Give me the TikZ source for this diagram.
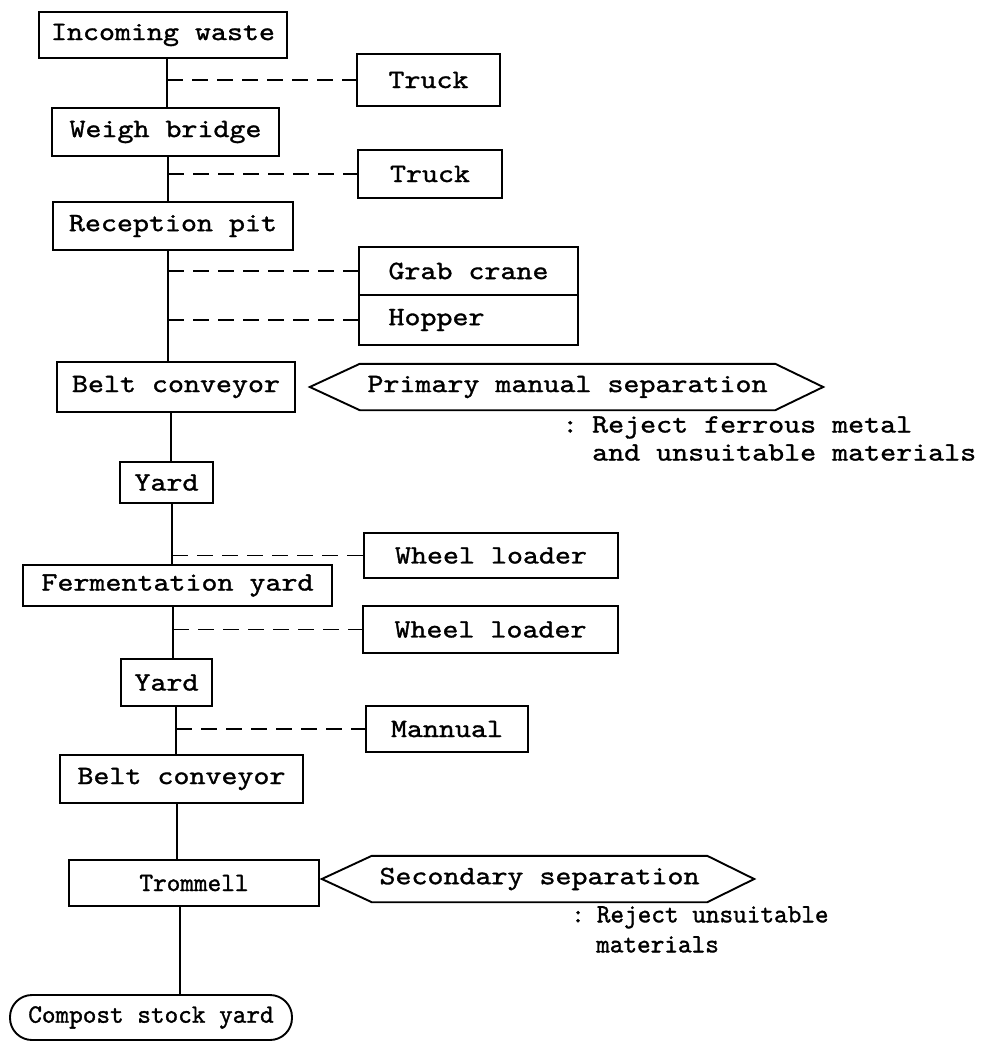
\documentclass[tikz,border=0pt]{standalone}
\usepackage{fontspec}
\newfontfamily\twfont{lmmono10-regular.otf}[FakeStretch=1.15,FakeBold=1.2]
\newfontfamily\twnarrow{lmmono10-regular.otf}[FakeStretch=0.98,FakeBold=1.2]
\usetikzlibrary{calc}

\tikzset{
  stage/.style={draw, line width=1.9pt, inner sep=0pt,
    font=\fontsize{26.5}{30}\twfont},
  spine/.style={line width=2.6pt},
  link/.style={line width=1.4pt, dash pattern=on 16pt off 9pt},
  outline/.style={line width=1.9pt, line join=miter},
  sepnote/.style={inner sep=0pt, font=\fontsize{26.5}{30}\twfont},
  remark/.style={inner sep=0pt, anchor=north west, align=left,
    font=\fontsize{26.5}{28}\twfont}
}

\begin{document}
\begin{tikzpicture}[x=1pt,y=-1pt]
\useasboundingbox (0,0) rectangle (984,1046);
\fill[white] (0,0) rectangle (984,1046);

% main process chain
\node[stage, minimum width=248pt, minimum height=46pt] (inc) at (163,35) {Incoming waste};
\node[stage, minimum width=227pt, minimum height=48pt] (weigh) at (165.5,132) {Weigh bridge};
\node[stage, minimum width=240pt, minimum height=48pt] (recep) at (173,226) {Reception pit};
\node[stage, minimum width=238pt, minimum height=50pt] (belt1) at (176,387) {Belt conveyor};
\node[stage, minimum width=93pt, minimum height=41pt] (yard1) at (166.5,482.5) {Yard};
\node[stage, minimum width=309pt, minimum height=41pt] (ferm) at (177.5,585.5) {Fermentation yard};
\node[stage, minimum width=91pt, minimum height=47pt] (yard2) at (166.5,682.5) {Yard};
\node[stage, minimum width=243pt, minimum height=48pt] (belt2) at (181.5,779) {Belt conveyor};
\node[stage, minimum width=250pt, minimum height=46pt, font=\fontsize{26.5}{30}\twnarrow] (tromm) at (194,883) {Trommell};
\node[stage, minimum width=282pt, minimum height=45pt, rounded corners=22pt,
  font=\fontsize{26.5}{30}\twnarrow] (compost) at (151,1017.5) {Compost stock yard};

% equipment
\node[stage, minimum width=143pt, minimum height=52pt] (truck1) at (428.5,80) {Truck};
\node[stage, minimum width=144pt, minimum height=48pt] (truck2) at (430,174) {Truck};
\node[stage, minimum width=219pt, minimum height=48pt] (grab) at (468.5,271) {Grab crane};
\node[stage, minimum width=219pt, minimum height=50pt] (hopper) at (468.5,320) {Hopper\phantom{xxxx}};
\node[stage, minimum width=254pt, minimum height=45pt] (wl1) at (491,555.5) {Wheel loader};
\node[stage, minimum width=255pt, minimum height=47pt] (wl2) at (490.5,629.5) {Wheel loader};
\node[stage, minimum width=162pt, minimum height=46pt] (mann) at (447,729) {Mannual};

% spine positions of each segment
\coordinate (x1) at (167,0);
\coordinate (x2) at (168,0);
\coordinate (x3) at (168,0);
\coordinate (x4) at (171,0);
\coordinate (x5) at (172,0);
\coordinate (x6) at (173,0);
\coordinate (x7) at (176,0);
\coordinate (x8) at (177,0);
\coordinate (x9) at (180,0);

\draw[spine] (inc.south -| x1) -- (weigh.north -| x1);
\draw[spine] (weigh.south -| x2) -- (recep.north -| x2);
\draw[spine] (recep.south -| x3) -- (belt1.north -| x3);
\draw[spine] (belt1.south -| x4) -- (yard1.north -| x4);
\draw[spine] (yard1.south -| x5) -- (ferm.north -| x5);
\draw[spine] (ferm.south -| x6) -- (yard2.north -| x6);
\draw[spine] (yard2.south -| x7) -- (belt2.north -| x7);
\draw[spine] (belt2.south -| x8) -- (tromm.north -| x8);
\draw[spine] (tromm.south -| x9) -- (compost.north -| x9);

% dashed links to equipment
\draw[link] (truck1.west -| x1) -- (truck1.west);
\draw[link] (truck2.west -| x2) -- (truck2.west);
\draw[link] (grab.west -| x3) -- (grab.west);
\draw[link] (hopper.west -| x3) -- (hopper.west);
\draw[link] (wl1.west -| x5) -- (wl1.west);
\draw[link] (wl2.west -| x6) -- (wl2.west);
\draw[link] (mann.west -| x7) -- (mann.west);

% separation steps
\node[sepnote, minimum width=415pt, minimum height=46pt] (sep1) at (567.5,387) {Primary manual separation};
\draw[outline] (sep1.north west) -- (sep1.north east) -- ($(sep1.east)+(48,0)$)
  -- (sep1.south east) -- (sep1.south west) -- ($(sep1.west)+(-50,0)$) -- cycle;
\node[remark] (rej1) at (562,416) {:\hspace{14pt}Reject ferrous metal\\\hspace{30pt}and unsuitable materials};

\node[sepnote, minimum width=335pt, minimum height=46pt] (sep2) at (539.5,879) {Secondary separation};
\draw[outline] (sep2.north west) -- (sep2.north east) -- ($(sep2.east)+(47,0)$)
  -- (sep2.south east) -- (sep2.south west) -- ($(sep2.west)+(-50,0)$) -- cycle;
\node[remark, font=\fontsize{26.5}{30}\twnarrow] (rej2) at (571,906) {:\hspace{12pt}Reject unsuitable\\\hspace{25pt}materials};

\end{tikzpicture}
\end{document}
